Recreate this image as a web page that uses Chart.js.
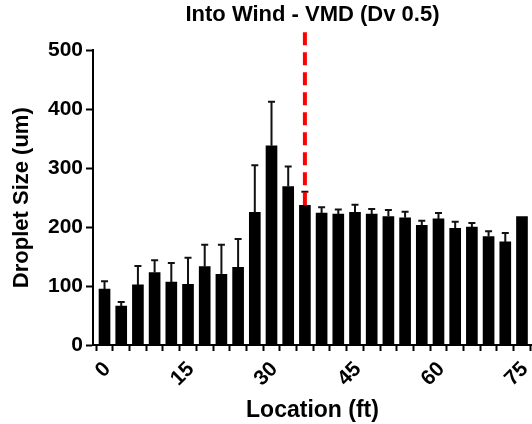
<!DOCTYPE html>
<html>
<head>
<meta charset="utf-8">
<script src="https://cdn.jsdelivr.net/npm/chart.js@4"></script>
<style>
  body { margin: 0; background: #fff; }
  #wrap { width: 532px; height: 424px; }
</style>
</head>
<body>
<div id="wrap"><canvas id="vmdChart"></canvas></div>
<script>
  // distancia (ft) y tamaño de gota VMD con su desviacion (solo hacia arriba)
  const locations = [0, 3, 6, 9, 12, 15, 18, 21, 24, 27, 30, 33, 36, 39, 42, 45, 48, 51, 54, 57, 60, 63, 66, 69, 72, 75];
  const dropletSize = [95, 66, 102, 123, 107, 103, 133, 120, 132, 225, 338, 269, 237, 224, 222, 225, 222, 218, 216, 203, 214, 198, 200, 184, 175, 218];
  const dropletSd = [13, 7, 32, 21, 32, 45, 37, 50, 48, 80, 75, 34, 23, 10, 8, 13, 9, 11, 10, 8, 10, 11, 7, 9, 15, 0];
  const xLabels = [0, 15, 30, 45, 60, 75];
  const yTicks = [0, 100, 200, 300, 400, 500];

  // linea roja de referencia
  const vmdLocation = 36;
  const vmdRange = [237, 534];

  Chart.defaults.font.family = '"Liberation Sans", Arial, sans-serif';
  Chart.defaults.font.weight = 'bold';
  Chart.defaults.color = '#000';

  // barras de error: linea vertical + tapa
  const errorBars = {
    id: 'errorBars',
    afterDatasetDraw(chart, args) {
      if (args.index !== 0) return;
      const { ctx } = chart;
      const y = chart.scales.y;
      ctx.save();
      ctx.strokeStyle = '#111';
      ctx.lineWidth = 2;
      args.meta.data.forEach((bar, i) => {
        const sd = dropletSd[i];
        if (!sd) return;
        const top = y.getPixelForValue(dropletSize[i]);
        const cap = y.getPixelForValue(dropletSize[i] + sd);
        ctx.beginPath();
        ctx.moveTo(bar.x, top);
        ctx.lineTo(bar.x, cap);
        ctx.moveTo(bar.x - 3.5, cap);
        ctx.lineTo(bar.x + 3.5, cap);
        ctx.stroke();
      });
      ctx.restore();
    }
  };

  new Chart(document.getElementById('vmdChart'), {
    type: 'bar',
    data: {
      datasets: [{
        data: locations.map((x, i) => ({ x, y: dropletSize[i] })),
        backgroundColor: '#000',
        barThickness: 11,
        order: 2
      }, {
        type: 'line',
        data: vmdRange.map(v => ({ x: vmdLocation, y: v })),
        borderColor: '#ff0000',
        borderWidth: 4,
        borderDash: [13, 7],
        pointRadius: 0,
        clip: false,
        order: 1
      }]
    },
    options: {
      responsive: true,
      maintainAspectRatio: false,
      animation: false,
      layout: { padding: 0 },
      plugins: {
        legend: { display: false },
        tooltip: { enabled: false },
        title: {
          display: true,
          fullSize: false,
          text: 'Into Wind - VMD (Dv 0.5)',
          font: { size: 22, weight: 'bold' },
          color: '#000',
          padding: { top: 2, bottom: 22 }
        }
      },
      scales: {
        x: {
          type: 'linear',
          offset: false,
          min: -2.07,
          max: 76.8,
          afterBuildTicks: s => { s.ticks = locations.map(v => ({ value: v })); },
          afterFit: s => {
            s.height = 79;
            // el eje llega hasta el borde derecho
            s.paddingLeft = 0;
            s.paddingRight = 0;
          },
          border: { color: '#000', width: 2 },
          grid: { drawOnChartArea: false, color: '#000', tickLength: 6, tickWidth: 2 },
          ticks: {
            autoSkip: false,
            minRotation: 45,
            maxRotation: 45,
            padding: 6,
            labelOffset: 3,
            font: { size: 21, weight: 'bold' },
            callback: v => xLabels.includes(v) ? String(v) : ''
          },
          title: {
            display: true,
            text: 'Location (ft)',
            font: { size: 23, weight: 'bold' },
            padding: { top: 0, bottom: 0 }
          }
        },
        y: {
          min: 0,
          max: 500,
          afterBuildTicks: s => { s.ticks = yTicks.map(v => ({ value: v })); },
          afterFit: s => { s.width = 93; },
          border: { color: '#000', width: 2 },
          grid: { drawOnChartArea: false, color: '#000', tickLength: 7, tickWidth: 2 },
          ticks: {
            padding: 3,
            font: { size: 21, weight: 'bold' }
          },
          title: {
            display: true,
            text: 'Droplet Size (um)',
            font: { size: 22, weight: 'bold' },
            padding: { top: 9, bottom: 0 }
          }
        }
      }
    },
    plugins: [errorBars]
  });
</script>
</body>
</html>
